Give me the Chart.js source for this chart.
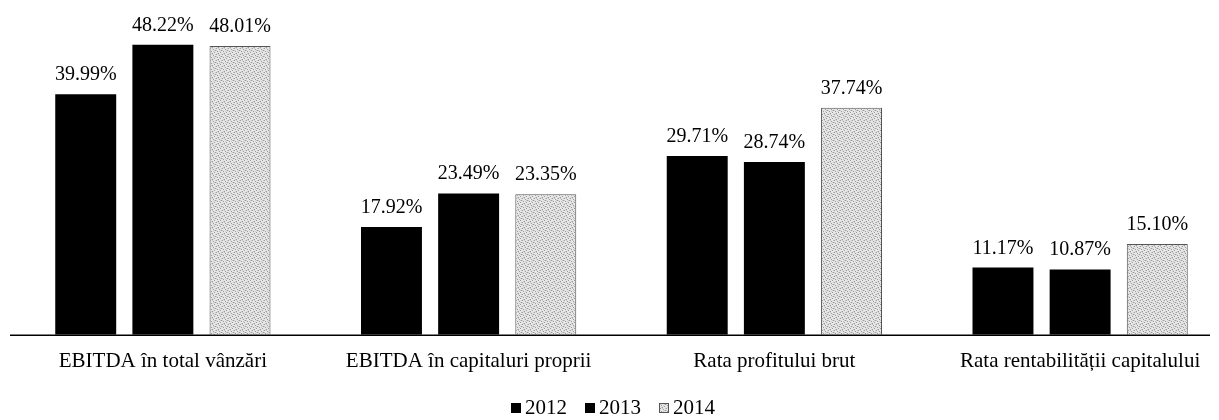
<!DOCTYPE html>
<html>
<head>
<meta charset="utf-8">
<script src="https://cdn.jsdelivr.net/npm/chart.js@4/dist/chart.umd.min.js"></script>
<style>
  html, body { margin: 0; padding: 0; background: #fff; overflow: hidden; }
  #wrap { position: relative; width: 1240px; height: 420px; }
</style>
</head>
<body>
<div id="wrap"><canvas id="ratesChart"></canvas></div>
<script>
// categories and series
const categories = ['EBITDA în total vânzări', 'EBITDA în capitaluri proprii', 'Rata profitului brut', 'Rata rentabilității capitalului'];
const years = ['2012', '2013', '2014'];
const values2012 = [39.99, 17.92, 29.71, 11.17];
const values2013 = [48.22, 23.49, 28.74, 10.87];
const values2014 = [48.01, 23.35, 37.74, 15.10];

const serif = '"Liberation Serif", "DejaVu Serif", serif';

// light grey dotted fill, like the scanned pattern
function greyPattern() {
    const c = document.createElement('canvas');
    c.width = 6; c.height = 6;
    const g = c.getContext('2d');
    g.fillStyle = '#e6e6e6';
    g.fillRect(0, 0, 6, 6);
    g.fillStyle = '#9a9a9a';
    [[0,0],[3,1],[1,3],[4,4],[2,5],[5,2]].forEach(p => g.fillRect(p[0], p[1], 1, 1));
    g.fillStyle = '#c8c8c8';
    [[2,0],[5,0],[0,2],[3,3],[1,5],[4,2]].forEach(p => g.fillRect(p[0], p[1], 1, 1));
    return g.createPattern(c, 'repeat');
}

// percent labels above each bar
const barLabels = {
    id: 'barLabels',
    afterDatasetsDraw(chart) {
        const ctx = chart.ctx;
        ctx.save();
        ctx.font = '20px ' + serif;
        ctx.fillStyle = '#000';
        ctx.textAlign = 'center';
        ctx.textBaseline = 'alphabetic';
        chart.data.datasets.forEach((ds, i) => {
            chart.getDatasetMeta(i).data.forEach((bar, j) => {
                ctx.fillText(ds.data[j].toFixed(2) + '%', bar.x, bar.y - 14);
            });
        });
        ctx.restore();
    }
};

// horizontal base line
const baseLine = {
    id: 'baseLine',
    afterDatasetsDraw(chart) {
        const ctx = chart.ctx;
        const y = chart.scales.y.getPixelForValue(0);
        ctx.save();
        ctx.strokeStyle = '#000';
        ctx.lineWidth = 1.5;
        ctx.beginPath();
        ctx.moveTo(10, y + 0.5);
        ctx.lineTo(1210, y + 0.5);
        ctx.stroke();
        ctx.restore();
    }
};

// compact legend at the bottom (square close to its text)
const bottomLegend = {
    id: 'bottomLegend',
    afterDraw(chart) {
        const ctx = chart.ctx;
        ctx.save();
        ctx.font = '21px ' + serif;
        ctx.textBaseline = 'middle';
        ctx.textAlign = 'left';
        const box = 10, gap = 4, space = 18, y = 408;
        const items = chart.data.datasets.map(ds => ({ text: ds.label, fill: ds.backgroundColor, border: ds.borderColor }));
        let total = 0;
        items.forEach((it, i) => { total += box + gap + ctx.measureText(it.text).width + (i ? space : 0); });
        let x = 613 - total / 2;
        items.forEach((it, i) => {
            if (i) x += space;
            ctx.fillStyle = it.fill;
            ctx.fillRect(x, y - box / 2, box, box);
            if (it.border) {
                ctx.strokeStyle = it.border;
                ctx.lineWidth = 1;
                ctx.strokeRect(x + 0.5, y - box / 2 + 0.5, box - 1, box - 1);
            }
            x += box + gap;
            ctx.fillStyle = '#000';
            ctx.fillText(it.text, x, y);
            x += ctx.measureText(it.text).width;
        });
        ctx.restore();
    }
};

const ctx = document.getElementById('ratesChart').getContext('2d');
const ratesChart = new Chart(ctx, {
    type: 'bar',
    data: {
        labels: categories,
        datasets: [{
            label: years[0],
            data: values2012,
            backgroundColor: '#000'
        }, {
            label: years[1],
            data: values2013,
            backgroundColor: '#000'
        }, {
            label: years[2],
            data: values2014,
            backgroundColor: greyPattern(),
            borderColor: '#555',
            borderWidth: 1
        }]
    },
    options: {
        responsive: true,
        maintainAspectRatio: false,
        animation: false,
        categoryPercentage: 0.757,
        barPercentage: 0.79,
        layout: { padding: { left: 10, right: 7, top: 34, bottom: 40 } },
        scales: {
            x: {
                grid: { display: false },
                border: { display: false },
                ticks: { color: '#000', font: { family: serif, size: 21 }, padding: 6 }
            },
            y: {
                display: false,
                min: 0,
                max: 50
            }
        },
        plugins: {
            legend: { display: false },
            tooltip: { enabled: false }
        }
    },
    plugins: [barLabels, baseLine, bottomLegend]
});
</script>
</body>
</html>
